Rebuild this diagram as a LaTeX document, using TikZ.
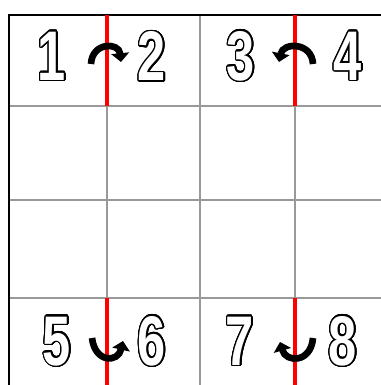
\documentclass[tikz,border=0pt]{standalone}
\usepackage{fontspec}
\setmainfont{Liberation Sans}
\usepackage{contour}
\usepackage{tikz}
\usetikzlibrary{arrows.meta}
\contourlength{0.9pt}
\contournumber{32}
\tikzstyle{digit}  = [inner sep=0pt, xscale=0.72,
                      font=\fontsize{40}{40}\selectfont\bfseries]
\tikzstyle{grid}   = [draw=gray!80, line width=0.6pt]
\tikzstyle{border} = [draw=black, line width=1pt]
\tikzstyle{cut}    = [draw=red, line width=2.4pt]
\tikzstyle{turn}   = [line width=3.8pt, -{Triangle[length=5pt, width=10pt]}]
\newcommand{\hollow}[1]{{\color{white}\contour{black}{#1}}}

\begin{document}
\begin{tikzpicture}[x=0.02cm, y=-0.02cm]
    \useasboundingbox (0,0) rectangle (381,385);
    % grid
    \foreach \y in {106, 200, 298}
        \draw [grid] (9,\y) -- (381,\y);
    \foreach \x in {107, 200, 295}
        \draw [grid] (\x,15) -- (\x,385);
    \draw [border] (381,15) -- (9,15) -- (9,385);
    % red separators
    \draw [cut] (107,15) -- (107,106);
    \draw [cut] (295,15) -- (295,106);
    \draw [cut] (107,298) -- (107,385);
    \draw [cut] (295,298) -- (295,385);

    % numbers
    \node (n1) [digit] at (52,57)   {\hollow{1}};
    \node (n2) [digit] at (152,57)  {\hollow{2}};
    \node (n3) [digit] at (241,57)  {\hollow{3}};
    \node (n4) [digit] at (348,57)  {\hollow{4}};
    \node (n5) [digit] at (57,342)  {\hollow{5}};
    \node (n6) [digit] at (152,342) {\hollow{6}};
    \node (n7) [digit] at (240,342) {\hollow{7}};
    \node (n8) [digit] at (343,342) {\hollow{8}};

    % turning arrows
    \draw [turn] (91,64) .. controls (92,42) and (119,42) .. (121,62);
    \draw [turn] (313,64) .. controls (312,42) and (283,42) .. (279,62);
    \draw [turn] (92,338) .. controls (95,363) and (118,363) .. (123,341);
    \draw [turn] (313,338) .. controls (311,363) and (286,363) .. (280,342);
\end{tikzpicture}
\end{document}
